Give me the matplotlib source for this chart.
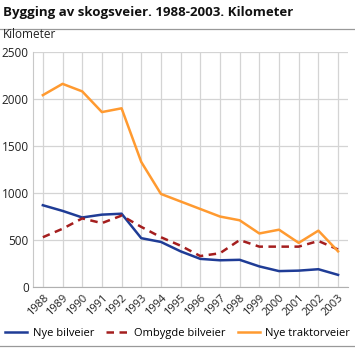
import matplotlib
matplotlib.use("Agg")
import matplotlib.pyplot as plt
from matplotlib.lines import Line2D

plt.rcParams['font.family'] = ['Open Sans', 'DejaVu Sans']

years = list(range(1988, 2004))
year_labels = [str(y) for y in years]
nye_bilveier = [870, 810, 740, 770, 780, 520, 480, 380, 300, 285, 290, 220, 170, 175, 190, 130]
ombygde_bilveier = [530, 620, 730, 680, 760, 640, 530, 440, 330, 360, 500, 430, 430, 430, 490, 400]
nye_traktorveier = [2040, 2160, 2080, 1860, 1900, 1330, 990, 910, 830, 750, 710, 570, 610, 470, 600, 380]
yticks = [0, 500, 1000, 1500, 2000, 2500]

fig = plt.figure(figsize=(3.55, 3.48), dpi=100)
ax = fig.add_axes([0.093, 0.175, 0.887, 0.676])

c_blue = '#1f3c96'
c_red = '#a41e1e'
c_orange = '#ff9a30'

ax.plot(years, nye_bilveier, color=c_blue, lw=1.8, label='Nye bilveier', zorder=3)
ax.plot(years, ombygde_bilveier, color=c_red, lw=1.8, ls=(0, (3, 2.2)), label='Ombygde bilveier', zorder=3)
ax.plot(years, nye_traktorveier, color=c_orange, lw=1.8, label='Nye traktorveier', zorder=3)

ax.set_xlim(1987.5, 2003.5)
ax.set_ylim(0, 2500)
ax.set_xticks(years)
ax.set_xticklabels(year_labels, rotation=45, ha='right', rotation_mode='anchor', fontsize=8, color='#222222')
ax.set_yticks(yticks)
ax.set_yticklabels([str(v) for v in yticks], fontsize=8.5, color='#222222')
ax.grid(True, color='#d4d4d4', lw=0.9)
ax.set_axisbelow(True)
for s in ['top', 'right']:
    ax.spines[s].set_visible(False)
ax.spines['left'].set_color('#c8c8c8')
ax.spines['bottom'].set_color('#b0b0b0')
ax.tick_params(axis='both', length=0, pad=3)
ax.tick_params(axis='x', pad=4)

fig.text(0.008, 0.965, 'Bygging av skogsveier. 1988-2003. Kilometer', fontsize=9.5, fontweight='bold', va='center', ha='left', color='#111111')
fig.add_artist(Line2D([0, 1], [0.918, 0.918], color='#999999', lw=0.9, transform=fig.transFigure))
fig.text(0.008, 0.902, 'Kilometer', fontsize=8.5, va='center', ha='left', color='#222222')
fig.add_artist(Line2D([0, 1], [0.006, 0.006], color='#999999', lw=0.9, transform=fig.transFigure))

handles, labels = ax.get_legend_handles_labels()
fig.legend(handles, labels, loc='center', bbox_to_anchor=(0.5, 0.043), ncol=3, frameon=False,
           fontsize=8, handlelength=2.0, handletextpad=0.5, columnspacing=1.1, borderaxespad=0, borderpad=0)

fig.savefig('out.png', dpi=100)
